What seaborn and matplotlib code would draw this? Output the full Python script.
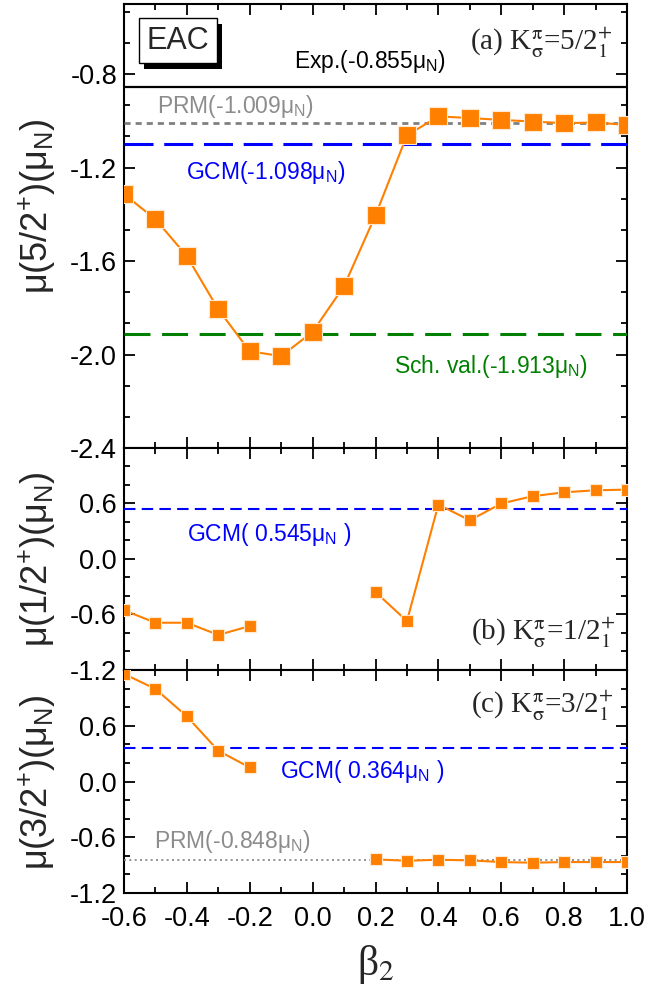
import numpy as np
import pandas as pd
import matplotlib
matplotlib.use("Agg")
import matplotlib.pyplot as plt
import matplotlib.patheffects as pe
from matplotlib.ticker import MultipleLocator, FixedLocator, FormatStrFormatter
import seaborn as sns

# ---------------- data ----------------
beta = [-0.6, -0.5, -0.4, -0.3, -0.2, -0.1, 0.0, 0.1, 0.2, 0.3, 0.4, 0.5, 0.6, 0.7, 0.8, 0.9, 1.0]
mu52 = [-1.314, -1.421, -1.579, -1.807, -1.986, -2.007, -1.903, -1.707, -1.404,
        -1.062, -0.981, -0.988, -0.996, -1.003, -1.010, -1.007, -1.018]

beta_left = [-0.6, -0.5, -0.4, -0.3, -0.2]
beta_right = [0.2, 0.3, 0.4, 0.5, 0.6, 0.7, 0.8, 0.9, 1.0]
mu12_left = [-0.554, -0.689, -0.689, -0.821, -0.725]
mu12_right = [-0.357, -0.671, 0.589, 0.418, 0.600, 0.679, 0.721, 0.743, 0.750]
mu32_left = [1.158, 0.996, 0.701, 0.331, 0.151]
mu32_right = [-0.838, -0.853, -0.842, -0.849, -0.867, -0.874, -0.867, -0.867, -0.867]

exp52, prm52, gcm52, sch52 = -0.855, -1.009, -1.098, -1.913
gcm12 = 0.545
gcm32, prm32 = 0.364, -0.848

xticks = [-0.6, -0.4, -0.2, 0.0, 0.2, 0.4, 0.6, 0.8, 1.0]
yticks_a = [-2.4, -2.0, -1.6, -1.2, -0.8]
yticks_bc = [-1.2, -0.6, 0.0, 0.6]

# ---------------- style ----------------
sns.set_theme(style="ticks")
plt.rcParams["font.family"] = ["Liberation Sans", "DejaVu Sans"]
plt.rcParams["mathtext.fontset"] = "custom"
plt.rcParams["mathtext.rm"] = "Liberation Sans"
plt.rcParams["mathtext.it"] = "Liberation Sans:italic"
plt.rcParams["mathtext.sf"] = "Liberation Sans"
plt.rcParams["axes.linewidth"] = 1.5

ORANGE = "#FF8000"
SERIF = ["Liberation Serif", "DejaVu Serif"]

fig = plt.figure(figsize=(6.48, 10.06), dpi=100)
L, W = 124 / 648, 503 / 648
axA = fig.add_axes([L, 1 - 448 / 1006, W, 444 / 1006])
axB = fig.add_axes([L, 1 - 670 / 1006, W, 222 / 1006])
axC = fig.add_axes([L, 1 - 893 / 1006, W, 223 / 1006])

def seg_df(xl, yl, xr, yr):
    return pd.DataFrame({
        "beta": list(xl) + list(xr),
        "mu": list(yl) + list(yr),
        "seg": [0] * len(xl) + [1] * len(xr),
    })

dfA = pd.DataFrame({"beta": beta, "mu": mu52, "seg": 0})
dfB = seg_df(beta_left, mu12_left, beta_right, mu12_right)
dfC = seg_df(beta_left, mu32_left, beta_right, mu32_right)

for ax, df, ms in [(axA, dfA, 12.5), (axB, dfB, 8), (axC, dfC, 8)]:
    sns.lineplot(data=df, x="beta", y="mu", units="seg", estimator=None, ax=ax,
                 color=ORANGE, linewidth=1.5, marker="s", markersize=ms,
                 markeredgecolor="#FFE8D0", markeredgewidth=0.8, zorder=5,
                 legend=False)

# reference lines panel (a)
axA.axhline(exp52, color="black", lw=1.6, zorder=3)
axA.axhline(prm52, color="#808080", lw=2.0, dashes=(2.2, 1.8), zorder=3)
axA.axhline(gcm52, color="#0000FF", lw=2.2, dashes=(9.5, 3.5), zorder=3)
axA.axhline(sch52, color="#008000", lw=2.2, dashes=(8.5, 3.8), zorder=3)
# panel (b)
axB.axhline(gcm12, color="#0000FF", lw=1.5, dashes=(5.5, 3.0), zorder=3)
# panel (c)
axC.axhline(gcm32, color="#0000FF", lw=1.5, dashes=(5.5, 3.0), zorder=3)
axC.axhline(prm32, color="#808080", lw=1.2, dashes=(1.2, 2.0), zorder=3)

# axes setup
for ax in (axA, axB, axC):
    ax.set_xlim(-0.6, 1.0)
    ax.xaxis.set_major_locator(FixedLocator(xticks))
    ax.xaxis.set_minor_locator(MultipleLocator(0.1))
    ax.tick_params(which="both", direction="in", top=True, right=True,
                   bottom=True, left=True, width=1.3, labelsize=19.5,
                   colors="black")
    ax.tick_params(axis="y", pad=5)
    ax.tick_params(axis="x", pad=9)
    ax.tick_params(which="major", length=8)
    ax.tick_params(which="minor", length=4)
    ax.set_xlabel("")
    ax.set_ylabel("")
    ax.yaxis.set_major_formatter(FormatStrFormatter("%.1f"))
    ax.xaxis.set_major_formatter(FormatStrFormatter("%.1f"))
    for s in ax.spines.values():
        s.set_linewidth(1.5)
        s.set_color("black")

axA.set_ylim(-2.4, -0.5)
axA.yaxis.set_major_locator(FixedLocator(yticks_a))
axA.yaxis.set_minor_locator(MultipleLocator(0.4 / 3))
for ax in (axB, axC):
    ax.set_ylim(-1.2, 1.2)
    ax.yaxis.set_major_locator(FixedLocator(yticks_bc))
    ax.yaxis.set_minor_locator(MultipleLocator(0.2))
axA.tick_params(labelbottom=False)
axB.tick_params(labelbottom=False)

# ---------------- texts ----------------
ann = 16.5
axA.text(0.182, -0.773, r"Exp.(-0.855μ$_{\mathrm{N}}$)", color="black", fontsize=ann,
         ha="center", va="baseline")
axA.text(-0.245, -0.966, r"PRM(-1.009μ$_{\mathrm{N}}$)", color="#8C8C8C", fontsize=ann,
         ha="center", va="baseline")
axA.text(-0.149, -1.247, r"GCM(-1.098μ$_{\mathrm{N}}$)", color="#0000FF", fontsize=ann,
         ha="center", va="baseline")
axA.text(0.568, -2.079, r"Sch. val.(-1.913μ$_{\mathrm{N}}$)", color="#008000", fontsize=ann,
         ha="center", va="baseline")
axB.text(-0.137, 0.196, r"GCM( 0.545μ$_{\mathrm{N}}$ )", color="#0000FF", fontsize=ann,
         ha="center", va="baseline")
axC.text(0.157, 0.043, r"GCM( 0.364μ$_{\mathrm{N}}$ )", color="#0000FF", fontsize=ann,
         ha="center", va="baseline")
axC.text(-0.255, -0.719, r"PRM(-0.848μ$_{\mathrm{N}}$)", color="#8C8C8C", fontsize=ann,
         ha="center", va="baseline")

# panel labels (serif)
plab = dict(fontsize=21, family=SERIF, math_fontfamily="stix", ha="right", va="baseline")
axA.text(0.972, 0.895, r"(a) K$^{\mathrm{\pi}}_{\mathrm{\sigma}}$=5/2$^{+}_{1}$",
         transform=axA.transAxes, **plab)
axB.text(0.976, 0.135, r"(b) K$^{\mathrm{\pi}}_{\mathrm{\sigma}}$=1/2$^{+}_{1}$",
         transform=axB.transAxes, **plab)
axC.text(0.973, 0.803, r"(c) K$^{\mathrm{\pi}}_{\mathrm{\sigma}}$=3/2$^{+}_{1}$",
         transform=axC.transAxes, **plab)

# EAC box with shadow
t = axA.text(0.107, 0.917, "EAC", transform=axA.transAxes, fontsize=22,
             ha="center", va="center", zorder=10,
             bbox=dict(boxstyle="square,pad=0.25", fc="white", ec="black", lw=1.0))
t.get_bbox_patch().set_path_effects([
    pe.SimplePatchShadow(offset=(4, -4), shadow_rgbFace="black", alpha=1.0),
    pe.Normal()])

# y labels
ylab = dict(rotation=90, ha="center", va="center", fontsize=26)
fig.text(37 / 648, 1 - 206 / 1006, r"μ(5/2$^{+}$)(μ$_{\mathrm{N}}$)", **ylab)
fig.text(37 / 648, 1 - 559 / 1006, r"μ(1/2$^{+}$)(μ$_{\mathrm{N}}$)", **ylab)
fig.text(37 / 648, 1 - 782 / 1006, r"μ(3/2$^{+}$)(μ$_{\mathrm{N}}$)", **ylab)

# x label
fig.text(376 / 648, 1 - 964 / 1006, r"β$_{2}$", fontsize=30, family=SERIF,
         math_fontfamily="stix", ha="center", va="center")

fig.savefig("out.png", dpi=100)
